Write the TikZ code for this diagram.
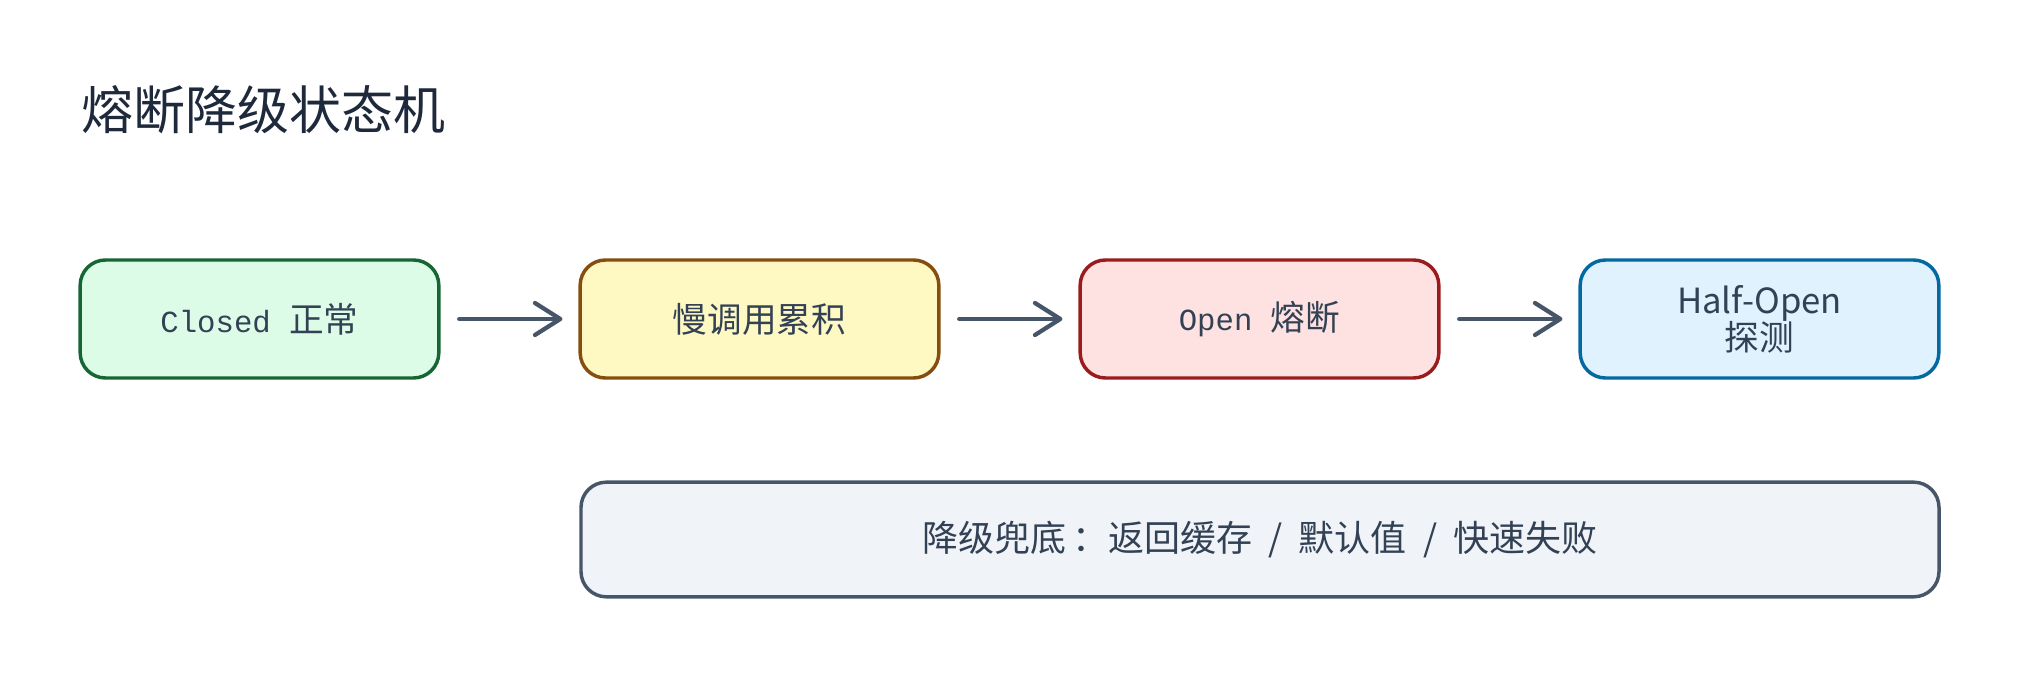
\documentclass[tikz,border=0pt]{standalone}
\usepackage{fontspec}
\setmainfont{Noto Sans CJK SC}
\setmonofont{Liberation Mono}
\usetikzlibrary{arrows.meta}

\definecolor{ink}{HTML}{334155}
\definecolor{titleink}{HTML}{1E293B}
\definecolor{arrowgray}{HTML}{475569}

\begin{document}
\begin{tikzpicture}[x=0.75pt,y=-0.75pt]
        \tikzstyle{every node}=[text=ink,font=\fontsize{26pt}{30pt}\selectfont]
        \tikzstyle{state}=[rounded corners=19pt,line width=2.6pt,minimum width=269pt,minimum height=88.5pt,align=center]
        \tikzstyle{flow}=[draw=arrowgray,line width=3.2pt,line cap=round,-{Straight Barb[length=19pt,width=24pt,line width=3.2pt,round]}]
        \useasboundingbox (0,0) rectangle (2020,680);
        \node[anchor=west,text=titleink,font=\fontsize{39pt}{44pt}\selectfont] (title) at (77,110) {熔断降级状态机};
        \node[state,draw={rgb,255:red,22;green,101;blue,52},fill={rgb,255:red,220;green,252;blue,231}] (closed) at (259.5,319) {{\fontsize{23pt}{26pt}\ttfamily Closed\ }正常};
        \node[state,draw={rgb,255:red,133;green,77;blue,14},fill={rgb,255:red,254;green,249;blue,195}] (slow) at (759.5,319) {慢调用累积};
        \node[state,draw={rgb,255:red,153;green,27;blue,27},fill={rgb,255:red,254;green,226;blue,226}] (open) at (1259.5,319) {{\fontsize{23pt}{26pt}\ttfamily Open\ }熔断};
        \node[state,draw={rgb,255:red,3;green,105;blue,161},fill={rgb,255:red,224;green,242;blue,254}] (halfopen) at (1759.5,319) {Half-Open\\[-2pt]探测};
        \node[state,minimum width=1018.5pt,minimum height=86pt,draw=arrowgray,fill={rgb,255:red,240;green,244;blue,249},font=\fontsize{27pt}{30pt}\selectfont] (fallback) at (1260,539.5) {降级兜底\,：返回缓存 \ / \ 默认值 \ / \ 快速失败};
        \draw[flow,shorten <=14pt,shorten >=12pt] (closed) -- (slow);
        \draw[flow,shorten <=14pt,shorten >=12pt] (slow) -- (open);
        \draw[flow,shorten <=14pt,shorten >=12pt] (open) -- (halfopen);
    \end{tikzpicture}
\end{document}
